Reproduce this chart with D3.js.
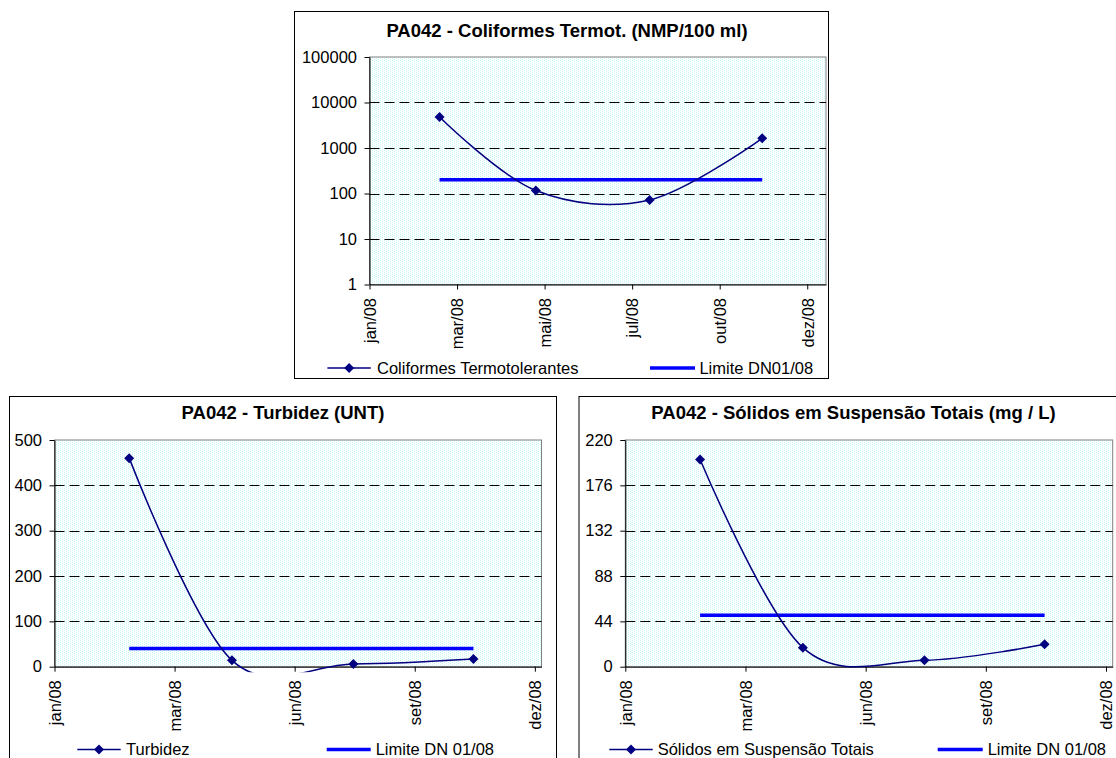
<!DOCTYPE html>
<html>
<head>
<meta charset="utf-8">
<script src="https://cdn.jsdelivr.net/npm/d3@7"></script>
<style>
  html, body { margin: 0; padding: 0; background: #ffffff; }
  svg { display: block; font-family: "Liberation Sans", Arial, sans-serif; }
</style>
</head>
<body>
<svg id="chart" width="1116" height="758"></svg>
<script>
// ---------------- data ----------------
const sampleDates = ["2008-02-26", "2008-05-13", "2008-08-12", "2008-11-10"];
const axisStart = "2008-01-01";
const axisEnd = "2008-12-31";
const monthAbbr = ["jan", "fev", "mar", "abr", "mai", "jun", "jul", "ago", "set", "out", "nov", "dez"];

const coliformesValues = [4800, 116, 72, 1630];
const coliformesLimit = 200;
const coliformesYTicks = [1, 10, 100, 1000, 10000, 100000];
const coliformesXStepDays = 70;

const turbidezValues = [460, 14, 6, 17];
const turbidezLimit = 40;
const turbidezYTicks = [0, 100, 200, 300, 400, 500];

const solidosValues = [201, 18.5, 6.2, 21.7];
const solidosLimit = 50;
const solidosYTicks = [0, 44, 88, 132, 176, 220];
const bottomXStepDays = 90;

const titles = [
  "PA042 - Coliformes Termot. (NMP/100 ml)",
  "PA042 - Turbidez (UNT)",
  "PA042 - Sólidos em Suspensão Totais (mg / L)"
];
const seriesNames = ["Coliformes Termotolerantes", "Turbidez", "Sólidos em Suspensão Totais"];
const limitNames = ["Limite DN01/08", "Limite DN 01/08", "Limite DN 01/08"];

// ---------------- drawing ----------------
const svg = d3.select("#chart");
const defs = svg.append("defs");
const pat = defs.append("pattern").attr("id", "dots").attr("patternUnits", "userSpaceOnUse")
  .attr("width", 4).attr("height", 2);
pat.append("rect").attr("width", 4).attr("height", 2).attr("fill", "#ffffff");
pat.append("rect").attr("x", 0).attr("y", 0).attr("width", 1).attr("height", 1).attr("fill", "#c4f7f7");
pat.append("rect").attr("x", 2).attr("y", 1).attr("width", 1).attr("height", 1).attr("fill", "#c4f7f7");

const parse = d3.utcParse("%Y-%m-%d");
const fmtX = d => monthAbbr[d.getUTCMonth()] + "/" + d3.utcFormat("%y")(d);
const NAVY = "#000080", BLUE = "#0000ff";
const TICK_FONT = "16.5px", TITLE_FONT = "18.5px";

function drawChart(cfg, idx) {
  const g = svg.append("g");
  const P = cfg.plot;

  // frame
  g.append("rect").attr("x", cfg.frame.x).attr("y", cfg.frame.y)
    .attr("width", cfg.frame.w).attr("height", cfg.frame.h)
    .attr("fill", "#fff").attr("stroke", "#000").attr("stroke-width", 1);

  // title
  g.append("text").attr("x", cfg.title.x).attr("y", cfg.title.y)
    .attr("text-anchor", "middle").style("font-weight", "bold").style("font-size", TITLE_FONT)
    .text(titles[idx]);

  const x = d3.scaleUtc().domain([parse(axisStart), parse(axisEnd)]).range([P.l, P.r]);
  const y = (cfg.log ? d3.scaleLog() : d3.scaleLinear()).domain(cfg.yDomain).range([P.b, P.t]);

  // plot area
  g.append("rect").attr("x", P.l).attr("y", P.t).attr("width", P.r - P.l).attr("height", P.b - P.t)
    .attr("fill", "url(#dots)").attr("stroke", "#808080").attr("stroke-width", 1);

  // gridlines
  const gridVals = cfg.yTicks.slice(1, cfg.yTicks.length - 1);
  g.append("g").selectAll("line").data(gridVals).join("line")
    .attr("x1", P.l).attr("x2", P.r)
    .attr("y1", d => Math.round(y(d)) + 0.5).attr("y2", d => Math.round(y(d)) + 0.5)
    .attr("stroke", "#000").attr("stroke-width", 1).attr("stroke-dasharray", "10,5");

  // axes
  const start = parse(axisStart);
  const xTicks = d3.range(0, 366, cfg.xStep).map(k => d3.utcDay.offset(start, k));
  const xAxis = g.append("g").attr("transform", `translate(0,${P.b})`)
    .call(d3.axisBottom(x).tickValues(xTicks).tickFormat(fmtX).tickSize(5).tickSizeOuter(0));
  xAxis.selectAll("text").attr("transform", "rotate(-90)").attr("x", -13.5).attr("y", 0)
    .attr("dy", "0.35em").style("text-anchor", "end").style("font-size", TICK_FONT).attr("fill", "#000");
  const yAxis = g.append("g").attr("transform", `translate(${P.l},0)`)
    .call(d3.axisLeft(y).tickValues(cfg.yTicks).tickFormat(d3.format("d")).tickSize(5).tickPadding(7.5).tickSizeOuter(0));
  yAxis.selectAll("text").style("font-size", TICK_FONT).attr("fill", "#000");
  [xAxis, yAxis].forEach(a => {
    a.attr("font-family", null).attr("font-size", null);
    a.selectAll("path,line").attr("stroke", "#000");
  });

  // clip
  const clipId = "clip" + idx;
  defs.append("clipPath").attr("id", clipId).append("rect")
    .attr("x", P.l - 8).attr("y", P.t - 8).attr("width", P.r - P.l + 16).attr("height", P.b - P.t + 13.5);

  const dates = sampleDates.map(parse);
  const pts = dates.map((d, i) => ({ d, v: cfg.values[i] }));
  const lim = dates.map(d => ({ d, v: cfg.limit }));

  const plotG = g.append("g").attr("clip-path", `url(#${clipId})`);
  plotG.append("path").datum(lim)
    .attr("d", d3.line().x(p => x(p.d)).y(p => y(p.v)))
    .attr("fill", "none").attr("stroke", BLUE).attr("stroke-width", 3.5);
  plotG.append("path").datum(pts)
    .attr("d", d3.line().curve(d3.curveCardinal.tension(0)).x(p => x(p.d)).y(p => y(p.v)))
    .attr("fill", "none").attr("stroke", NAVY).attr("stroke-width", 1.5);
  const diamond = "M0,-5L5,0L0,5L-5,0Z";
  g.append("g").selectAll("path").data(pts).join("path")
    .attr("d", diamond).attr("transform", p => `translate(${x(p.d)},${y(p.v)})`)
    .attr("fill", NAVY);

  // legend
  const L = cfg.legend;
  const lg = g.append("g");
  lg.append("line").attr("x1", L.s1[0]).attr("x2", L.s1[1]).attr("y1", L.y).attr("y2", L.y)
    .attr("stroke", NAVY).attr("stroke-width", 1.5);
  lg.append("path").attr("d", diamond).attr("transform", `translate(${(L.s1[0] + L.s1[1]) / 2},${L.y})`).attr("fill", NAVY);
  lg.append("text").attr("x", L.t1).attr("y", L.y).attr("dy", "0.35em").style("font-size", TICK_FONT).text(seriesNames[idx]);
  lg.append("line").attr("x1", L.s2[0]).attr("x2", L.s2[1]).attr("y1", L.y).attr("y2", L.y)
    .attr("stroke", BLUE).attr("stroke-width", 3.5);
  lg.append("text").attr("x", L.t2).attr("y", L.y).attr("dy", "0.35em").style("font-size", TICK_FONT).text(limitNames[idx]);
}

drawChart({
  frame: { x: 294.5, y: 11.5, w: 534, h: 367 },
  plot: { l: 369.5, r: 826, t: 57, b: 284.5 },
  title: { x: 567, y: 37 },
  log: true, yDomain: [1, 100000], yTicks: coliformesYTicks, xStep: coliformesXStepDays,
  values: coliformesValues, limit: coliformesLimit,
  legend: { y: 368, s1: [327.4, 370.8], t1: 377, s2: [650, 695], t2: 699.4 }
}, 0);

drawChart({
  frame: { x: 9.5, y: 396.5, w: 547, h: 380 },
  plot: { l: 54.5, r: 541.5, t: 440, b: 666.7 },
  title: { x: 283, y: 419 },
  log: false, yDomain: [0, 500], yTicks: turbidezYTicks, xStep: bottomXStepDays,
  values: turbidezValues, limit: turbidezLimit,
  legend: { y: 749.5, s1: [77.3, 120.7], t1: 126, s2: [326.7, 370.7], t2: 375.7 }
}, 1);

drawChart({
  frame: { x: 579, y: 396.5, w: 549, h: 380 },
  plot: { l: 625.3, r: 1112.7, t: 440, b: 666.7 },
  title: { x: 853.5, y: 419 },
  log: false, yDomain: [0, 220], yTicks: solidosYTicks, xStep: bottomXStepDays,
  values: solidosValues, limit: solidosLimit,
  legend: { y: 749.5, s1: [609.3, 652.7], t1: 657.7, s2: [937.7, 982.7], t2: 987.7 }
}, 2);
</script>
</body>
</html>
